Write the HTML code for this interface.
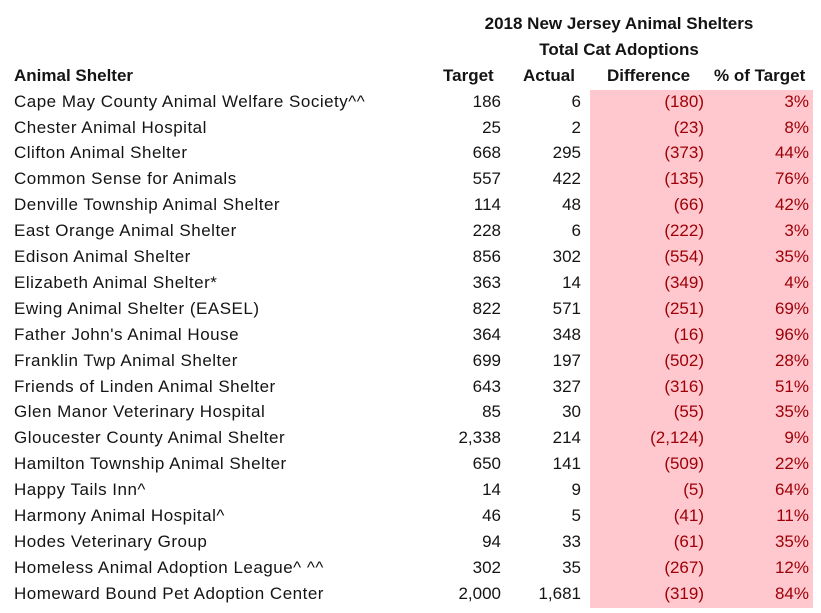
<!DOCTYPE html>
<html>
<head>
<meta charset="utf-8">
<style>
  html, body { margin:0; padding:0; background:#ffffff; }
  body { width:821px; height:613px; position:relative; overflow:hidden;
         font-family:"Liberation Sans", Arial, sans-serif; font-size:17px; color:#141414; }
  .fill { position:absolute; left:590px; top:90px; width:223px; height:518px; background:#FFC7CE; }
  .r { position:absolute; left:0; width:821px; height:26px; line-height:26px; }
  .r div { position:absolute; top:0; white-space:nowrap; }
  .name { left:14px; letter-spacing:0.5px; }
  .t { right:320px; text-align:right; }
  .a { right:240px; text-align:right; }
  .d { right:117px; text-align:right; color:#9C0006; }
  .p { right:12px; text-align:right; color:#9C0006; }
  .b { font-weight:bold; }
  .title { position:absolute; left:420px; width:398px; text-align:center; font-weight:bold; height:26px; line-height:26px; }
</style>
</head>
<body>
<div class="fill"></div>

<div class="title" style="top:10.9px;">2018 New Jersey Animal Shelters</div>
<div class="title" style="top:36.8px;">Total Cat Adoptions</div>

<div class="r b" style="top:62.7px;">
  <div style="left:14px;">Animal Shelter</div>
  <div style="left:443px;">Target</div>
  <div style="left:523px;">Actual</div>
  <div style="left:607px;">Difference</div>
  <div style="left:714px;">% of Target</div>
</div>

<div class="r" style="top:88.6px;"><div class="name">Cape May County Animal Welfare Society^^</div><div class="t">186</div><div class="a">6</div><div class="d">(180)</div><div class="p">3%</div></div>
<div class="r" style="top:114.5px;"><div class="name">Chester Animal Hospital</div><div class="t">25</div><div class="a">2</div><div class="d">(23)</div><div class="p">8%</div></div>
<div class="r" style="top:140.4px;"><div class="name">Clifton Animal Shelter</div><div class="t">668</div><div class="a">295</div><div class="d">(373)</div><div class="p">44%</div></div>
<div class="r" style="top:166.3px;"><div class="name">Common Sense for Animals</div><div class="t">557</div><div class="a">422</div><div class="d">(135)</div><div class="p">76%</div></div>
<div class="r" style="top:192.2px;"><div class="name">Denville Township Animal Shelter</div><div class="t">114</div><div class="a">48</div><div class="d">(66)</div><div class="p">42%</div></div>
<div class="r" style="top:218.1px;"><div class="name">East Orange Animal Shelter</div><div class="t">228</div><div class="a">6</div><div class="d">(222)</div><div class="p">3%</div></div>
<div class="r" style="top:244.0px;"><div class="name">Edison Animal Shelter</div><div class="t">856</div><div class="a">302</div><div class="d">(554)</div><div class="p">35%</div></div>
<div class="r" style="top:269.9px;"><div class="name">Elizabeth Animal Shelter*</div><div class="t">363</div><div class="a">14</div><div class="d">(349)</div><div class="p">4%</div></div>
<div class="r" style="top:295.8px;"><div class="name">Ewing Animal Shelter (EASEL)</div><div class="t">822</div><div class="a">571</div><div class="d">(251)</div><div class="p">69%</div></div>
<div class="r" style="top:321.7px;"><div class="name">Father John's Animal House</div><div class="t">364</div><div class="a">348</div><div class="d">(16)</div><div class="p">96%</div></div>
<div class="r" style="top:347.6px;"><div class="name">Franklin Twp Animal Shelter</div><div class="t">699</div><div class="a">197</div><div class="d">(502)</div><div class="p">28%</div></div>
<div class="r" style="top:373.5px;"><div class="name">Friends of Linden Animal Shelter</div><div class="t">643</div><div class="a">327</div><div class="d">(316)</div><div class="p">51%</div></div>
<div class="r" style="top:399.4px;"><div class="name">Glen Manor Veterinary Hospital</div><div class="t">85</div><div class="a">30</div><div class="d">(55)</div><div class="p">35%</div></div>
<div class="r" style="top:425.3px;"><div class="name">Gloucester County Animal Shelter</div><div class="t">2,338</div><div class="a">214</div><div class="d">(2,124)</div><div class="p">9%</div></div>
<div class="r" style="top:451.2px;"><div class="name">Hamilton Township Animal Shelter</div><div class="t">650</div><div class="a">141</div><div class="d">(509)</div><div class="p">22%</div></div>
<div class="r" style="top:477.1px;"><div class="name">Happy Tails Inn^</div><div class="t">14</div><div class="a">9</div><div class="d">(5)</div><div class="p">64%</div></div>
<div class="r" style="top:503.0px;"><div class="name">Harmony Animal Hospital^</div><div class="t">46</div><div class="a">5</div><div class="d">(41)</div><div class="p">11%</div></div>
<div class="r" style="top:528.9px;"><div class="name">Hodes Veterinary Group</div><div class="t">94</div><div class="a">33</div><div class="d">(61)</div><div class="p">35%</div></div>
<div class="r" style="top:554.8px;"><div class="name">Homeless Animal Adoption League^ ^^</div><div class="t">302</div><div class="a">35</div><div class="d">(267)</div><div class="p">12%</div></div>
<div class="r" style="top:580.7px;"><div class="name">Homeward Bound Pet Adoption Center</div><div class="t">2,000</div><div class="a">1,681</div><div class="d">(319)</div><div class="p">84%</div></div>
</body>
</html>
